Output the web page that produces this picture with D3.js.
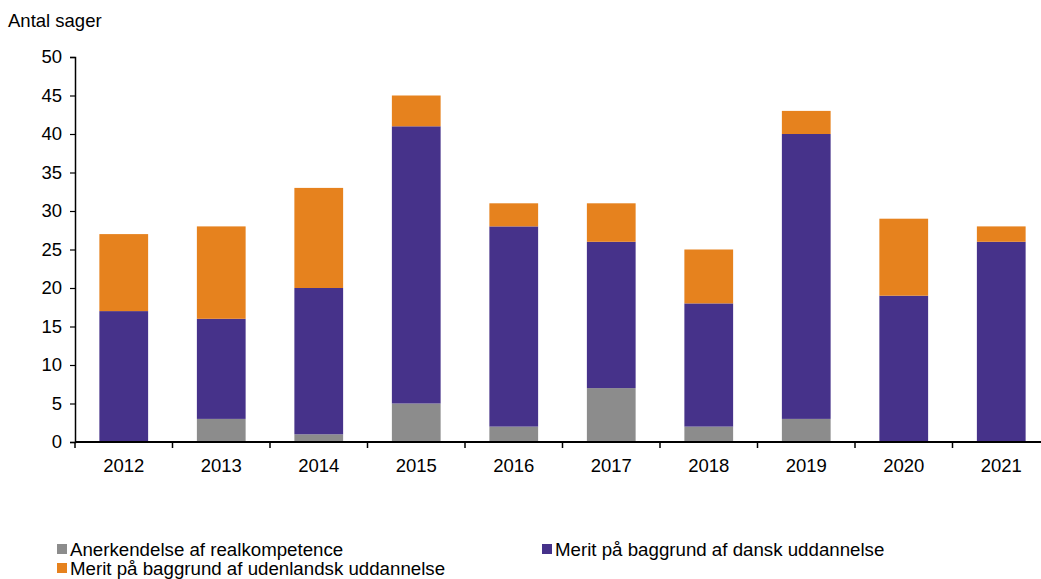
<!DOCTYPE html>
<html>
<head>
<meta charset="utf-8">
<script src="https://cdn.jsdelivr.net/npm/d3@7"></script>
<style>
  body { margin: 0; background: #fff; }
  svg text { font-family: "Liberation Sans", Arial, sans-serif; fill: #000; }
</style>
</head>
<body>
<svg id="chart" width="1041" height="579"></svg>
<script>
const years = ["2012","2013","2014","2015","2016","2017","2018","2019","2020","2021"];
const realkompetence = [0, 3, 1, 5, 2, 7, 2, 3, 0, 0];
const danskUdd = [17, 13, 19, 36, 26, 19, 16, 37, 19, 26];
const udenlandskUdd = [10, 12, 13, 4, 3, 5, 7, 3, 10, 2];
const yTicks = [0, 5, 10, 15, 20, 25, 30, 35, 40, 45, 50];

const seriesNames = ["Anerkendelse af realkompetence", "Merit på baggrund af dansk uddannelse", "Merit på baggrund af udenlandsk uddannelse"];
const colors = ["#8c8c8c", "#46328a", "#e6821e"];

const svg = d3.select("#chart");
// plot area runs a little past the right edge of the picture, as in the original
const m = { left: 75, right: 1050, top: 57, bottom: 442 };
const fs = 18.5;

const x = d3.scaleBand().domain(years).range([m.left, m.right]).paddingInner(0.5).paddingOuter(0.25);
const y = d3.scaleLinear().domain([0, 50]).range([m.bottom, m.top]);

const rows = years.map((yr, i) => ({ year: yr, s0: realkompetence[i], s1: danskUdd[i], s2: udenlandskUdd[i] }));
const stacked = d3.stack().keys(["s0", "s1", "s2"])(rows);

svg.append("g").selectAll("g")
  .data(stacked)
  .join("g")
  .attr("fill", (d, i) => colors[i])
  .selectAll("rect")
  .data(d => d)
  .join("rect")
  .attr("x", d => x(d.data.year))
  .attr("width", x.bandwidth())
  .attr("y", d => y(d[1]))
  .attr("height", d => y(d[0]) - y(d[1]));

// y axis
const yAxis = svg.append("g")
  .attr("transform", `translate(${m.left},0)`)
  .call(d3.axisLeft(y).tickValues(yTicks).tickSize(5).tickPadding(8));
yAxis.select(".domain").attr("stroke", "#000").attr("stroke-width", 1.5);
yAxis.selectAll(".tick line").attr("stroke", "#000").attr("stroke-width", 1.2);
yAxis.selectAll("text").attr("font-size", fs);

// x axis: ticks at band boundaries
const step = x.step();
const xg = svg.append("g").attr("transform", `translate(0,${m.bottom})`);
xg.append("line").attr("x1", m.left).attr("x2", 1041).attr("stroke", "#000").attr("stroke-width", 2);
const bounds = years.map((yr, i) => m.left + i * step);
xg.selectAll(".xt").data(bounds).join("line")
  .attr("x1", d => d).attr("x2", d => d)
  .attr("y1", 0).attr("y2", 6)
  .attr("stroke", "#000").attr("stroke-width", 1.5);
xg.selectAll(".xl").data(years).join("text")
  .attr("x", d => x(d) + x.bandwidth() / 2)
  .attr("y", 30)
  .attr("text-anchor", "middle")
  .attr("font-size", fs)
  .text(d => d);

svg.append("text").attr("x", 8).attr("y", 27).attr("font-size", fs).text("Antal sager");

// legend
const legendPos = [[57, 550], [542, 550], [57, 569]];
const lg = svg.append("g").selectAll("g").data(seriesNames).join("g")
  .attr("transform", (d, i) => `translate(${legendPos[i][0]},${legendPos[i][1]})`);
lg.append("rect").attr("x", 0).attr("y", -6).attr("width", 10).attr("height", 10)
  .attr("fill", (d, i) => colors[i]);
lg.append("text").attr("x", 13).attr("y", 6).attr("font-size", 18.7).text(d => d);
</script>
</body>
</html>
